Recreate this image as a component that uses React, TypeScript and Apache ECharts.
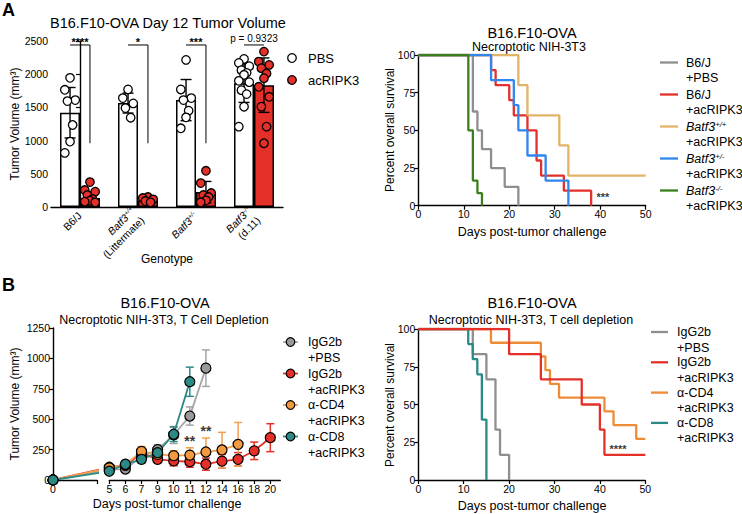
import React, { useEffect, useRef } from "react";
import * as echarts from "echarts";

// ================= DATA =================
// Panel A (left): Day 12 tumor volume
const genotypes = ["B6/J", "Batf3+/+", "Batf3+/-", "Batf3-/-"];
const genotypeNotes = ["", "(Littermate)", "", "(d.11)"];
const pbsMean = [1420, 1565, 1610, 1865];
const pbsSD = [380, 150, 310, 290];
const acMean = [135, 100, 225, 1835];
const acSD = [95, 35, 160, 410];
const pbsDots = [
  [1945, 1765, 1610, 1595, 1235, 985, 815],
  [1770, 1640, 1560, 1490, 1345],
  [2215, 1770, 1640, 1610, 1450, 1350, 1185],
  [2230, 2170, 2120, 2060, 2020, 1990, 1900, 1880, 1760, 1700, 1510, 1210],
];
const acDots = [
  [375, 255, 230, 180, 120, 95, 80, 70],
  [150, 135, 115, 90, 70],
  [545, 360, 210, 180, 150, 100, 70],
  [2340, 2190, 2140, 2090, 2010, 1940, 1810, 1660, 1510, 1210, 960],
];
const sigLabelsA = ["****", "*", "***", "p = 0.9323"];

// Panel A (right): survival
const kmAGroups = ["B6/J|+PBS", "B6/J|+acRIPK3", "Batf3+/+|+acRIPK3", "Batf3+/-|+acRIPK3", "Batf3-/-|+acRIPK3"];
const kmATimes = [
  [0, 12, 13, 14, 16, 19, 22],
  [0, 16, 17, 20, 21, 24, 26, 27, 32, 38],
  [0, 22, 24, 31, 33, 50],
  [0, 16, 21, 22, 24, 28, 33],
  [0, 11, 12, 13, 14],
];
const kmASurv = [
  [100, 62.5, 50, 37.5, 25, 12.5, 0],
  [100, 90, 80, 70, 60, 50, 30, 20, 10, 0],
  [100, 80, 60, 40, 20, 20],
  [100, 83.3, 66.7, 50, 33.3, 16.7, 0],
  [100, 50, 16.7, 8.3, 0],
];
const kmASig = "***";

// Panel B (left): tumor growth
const tvDays = [0, 5, 6, 7, 9, 10, 11, 12, 14, 16, 18, 20];
const tvGroups = ["IgG2b|+PBS", "IgG2b|+acRIPK3", "α-CD4|+acRIPK3", "α-CD8|+acRIPK3"];
const tvMean = [
  [0, 85, 90, 190, 250, 370, 526, 920, null, null, null, null],
  [0, 105, 120, 220, 170, 157, 150, 130, 155, 170, 240, 348],
  [0, 100, 125, 235, 210, 200, 205, 230, 247, 293, null, null],
  [0, 72, 130, 170, 225, 376, 808, null, null, null, null, null],
];
const tvSD = [
  [0, 20, 25, 50, 40, 70, 75, 150, null, null, null, null],
  [0, 15, 20, 40, 30, 40, 45, 50, 55, 55, 72, 115],
  [0, 15, 20, 40, 30, 40, 60, 115, 145, 180, null, null],
  [0, 20, 20, 30, 40, 60, 120, null, null, null, null, null],
];
const tvSigDays = [11, 12];
const tvSigLabels = ["**", "**"];

// Panel B (right): survival
const kmBGroups = ["IgG2b|+PBS", "IgG2b|+acRIPK3", "α-CD4|+acRIPK3", "α-CD8|+acRIPK3"];
const kmBTimes = [
  [0, 12, 15, 17, 18, 20],
  [0, 20, 27, 36, 40, 41, 50],
  [0, 16, 27, 28, 29, 31, 41, 43, 48, 50],
  [0, 11, 12, 13, 14, 15],
];
const kmBSurv = [
  [100, 83.3, 66.7, 33.3, 16.7, 0],
  [100, 83.3, 66.7, 50, 33.3, 16.7, 16.7],
  [100, 90.9, 81.8, 72.7, 63.6, 54.5, 45.5, 36.4, 27.3, 27.3],
  [100, 90, 80, 70, 40, 0],
];
const kmBSig = "****";

// ================= STYLE / LAYOUT =================
const FONT = '"Liberation Sans", Arial, Helvetica, sans-serif';
const RED = "#e5302a";
const kmAColors = ["#8e8e8e", "#e2302c", "#e2b467", "#2f86ee", "#3b7f1c"];
const tvColors = ["#9a9a9a", "#e5302a", "#f29a3f", "#2c8a86"];
const tvLine = ["#a5a5a5", "#e5302a", "#f2a050", "#2c8a86"];
const kmBColors = ["#8e8e8e", "#e5302a", "#ee8c36", "#2a8a86"];
const kmBOrder = [0, 2, 3, 1];
const OFF = 0.1717; // bar half-offset in category units
const jit = [0, -0.09, 0.09, -0.045, 0.045];

const plain = (v: number) => String(v);
const axisLineStyle = { show: true, lineStyle: { color: "#000", width: 1.4 } };
const tickStyle = { show: true, inside: false, length: 4, lineStyle: { color: "#000", width: 1.2 } };
const labelStyle = { color: "#000", fontSize: 10.5, fontFamily: FONT, margin: 3, formatter: plain };

const richSup = (size: number) => ({
  i: { fontStyle: "italic", fontSize: size, fontFamily: FONT, color: "#000" },
  s: { fontStyle: "italic", fontSize: size * 0.62, fontFamily: FONT, verticalAlign: "top", color: "#000" },
});
const fmtGeno = (s: string) => (s.startsWith("Batf3") ? `{i|Batf3}{s|${s.slice(5)}}` : s);

function errRender(capW: number, color: string, lw: number) {
  return (params: any, api: any) => {
    const x = api.value(0);
    const lo = api.coord([x, api.value(1)]);
    const hi = api.coord([x, api.value(2)]);
    const st = { stroke: color, lineWidth: lw };
    return {
      type: "group",
      children: [
        { type: "line", shape: { x1: lo[0], y1: lo[1], x2: hi[0], y2: hi[1] }, style: st },
        { type: "line", shape: { x1: hi[0] - capW / 2, y1: hi[1], x2: hi[0] + capW / 2, y2: hi[1] }, style: st },
        { type: "line", shape: { x1: lo[0] - capW / 2, y1: lo[1], x2: lo[0] + capW / 2, y2: lo[1] }, style: st },
      ],
    };
  };
}

function txt(x: number, y: number, text: string, size: number, o: any = {}) {
  return {
    type: "text",
    x,
    y,
    rotation: o.rot || 0,
    style: {
      text,
      fontSize: size,
      fontFamily: FONT,
      fontWeight: o.weight || "normal",
      fill: "#000",
      align: o.align || "center",
      verticalAlign: "middle",
      rich: o.rich,
    },
  };
}

function buildOption() {
  const series: any[] = [];
  const graphic: any[] = [];

  // ---------- Panel A left ----------
  series.push({
    type: "bar", xAxisIndex: 0, yAxisIndex: 0, data: pbsMean, barWidth: 20, barGap: "0%",
    itemStyle: { color: "#fff", borderColor: "#000", borderWidth: 1.5 }, silent: true,
  });
  series.push({
    type: "bar", xAxisIndex: 0, yAxisIndex: 0, data: acMean, barWidth: 20, barGap: "0%",
    itemStyle: { color: RED, borderColor: "#000", borderWidth: 1.5 }, silent: true,
  });
  series.push({
    type: "custom", xAxisIndex: 1, yAxisIndex: 0, silent: true, z: 3,
    data: pbsMean.map((m, i) => [i - OFF, m - pbsSD[i], m + pbsSD[i]]),
    renderItem: errRender(11, "#000", 1.4),
  });
  series.push({
    type: "custom", xAxisIndex: 1, yAxisIndex: 0, silent: true, z: 3,
    data: acMean.map((m, i) => [i + OFF, m - acSD[i], m + acSD[i]]),
    renderItem: errRender(11, "#000", 1.4),
  });
  const dotData = (arr: number[][], side: number) =>
    arr.flatMap((vals, i) => vals.map((v, k) => [i + side * OFF + jit[k % jit.length], v]));
  series.push({
    type: "scatter", xAxisIndex: 1, yAxisIndex: 0, symbolSize: 8.5, silent: true, z: 4,
    data: dotData(pbsDots, -1), itemStyle: { color: "#fff", borderColor: "#000", borderWidth: 1.3, opacity: 1 },
  });
  series.push({
    type: "scatter", xAxisIndex: 1, yAxisIndex: 0, symbolSize: 8.5, silent: true, z: 4,
    data: dotData(acDots, 1), itemStyle: { color: RED, borderColor: "#000", borderWidth: 1.3, opacity: 1 },
  });
  // significance brackets
  const brTop = 2440, brDrop = 960, brText = 2500;
  series.push({
    type: "custom", xAxisIndex: 1, yAxisIndex: 0, silent: true, z: 5,
    data: genotypes.map((g, i) => [i]),
    renderItem: (params: any, api: any) => {
      const i = api.value(0);
      const idx = params.dataIndex;
      const L = api.coord([i - OFF, brTop]);
      const R = api.coord([i + OFF, brTop]);
      const D = api.coord([i + OFF, brDrop]);
      const T = api.coord([i, brText]);
      const st = { stroke: "#000", lineWidth: 1 };
      const isP = sigLabelsA[idx].startsWith("p");
      const ch: any[] = [{ type: "line", shape: { x1: L[0], y1: L[1], x2: R[0], y2: R[1] }, style: st }];
      if (!isP) ch.push({ type: "line", shape: { x1: R[0], y1: R[1], x2: D[0], y2: D[1] }, style: st });
      ch.push({
        type: "text", x: T[0], y: isP ? T[1] - 3 : T[1] + 1,
        style: { text: sigLabelsA[idx], fontSize: isP ? 10 : 11, fontWeight: isP ? "normal" : "bold", fontFamily: FONT, fill: "#000", align: "center", verticalAlign: "middle" },
      });
      return { type: "group", children: ch };
    },
  });

  // ---------- Panel A right (KM) ----------
  kmAGroups.forEach((g, gi) => {
    series.push({
      type: "line", step: "end", xAxisIndex: 2, yAxisIndex: 1, symbol: "none", silent: true,
      data: kmATimes[gi].map((t, k) => [t, kmASurv[gi][k]]),
      lineStyle: { color: kmAColors[gi], width: 2.3 }, itemStyle: { color: kmAColors[gi] },
    });
  });
  series.push({
    type: "scatter", xAxisIndex: 2, yAxisIndex: 1, symbolSize: 0, silent: true,
    data: [[40.6, 6]],
    label: { show: true, position: "inside", formatter: kmASig, fontSize: 11, color: "#000", fontFamily: FONT, fontWeight: "bold" },
  });

  // ---------- Panel B left (growth) ----------
  tvGroups.forEach((g, gi) => {
    // day 0 -> day 5 segment (clipped at axis break)
    series.push({
      type: "line", xAxisIndex: 3, yAxisIndex: 2, silent: true, clip: true, z: 2,
      data: [
        { value: [tvDays[0], tvMean[gi][0]], symbol: "circle" },
        { value: [tvDays[1], tvMean[gi][1]], symbol: "none" },
      ],
      symbolSize: 10,
      lineStyle: { color: tvLine[gi], width: 1.8 },
      itemStyle: { color: tvColors[gi], borderColor: "#000", borderWidth: 1.2 },
    });
    const pts: any[] = [];
    const errs: any[] = [];
    for (let k = 1; k < tvDays.length; k++) {
      const m = tvMean[gi][k];
      if (m == null) continue;
      pts.push([k - 1, m]);
      const sd = tvSD[gi][k] as number;
      errs.push([k - 1, m - sd, m + sd]);
    }
    series.push({
      type: "custom", xAxisIndex: 4, yAxisIndex: 3, silent: true, z: 2 + gi * 0.01,
      data: errs, renderItem: errRender(8, tvLine[gi], 1.5), clip: false,
    });
    series.push({
      type: "line", xAxisIndex: 4, yAxisIndex: 3, silent: true, z: 3,
      data: pts, symbol: "circle", symbolSize: 10, showSymbol: true,
      lineStyle: { color: tvLine[gi], width: 1.8 },
      itemStyle: { color: tvColors[gi], borderColor: "#000", borderWidth: 1.2 },
    });
  });
  series.push({
    type: "scatter", xAxisIndex: 4, yAxisIndex: 3, symbolSize: 0, silent: true, z: 6,
    data: tvSigDays.map((d, i) => [tvDays.indexOf(d) - 1, i === 0 ? 320 : 403]),
    label: {
      show: true, position: "inside", fontSize: 14, fontWeight: "bold", color: "#000", fontFamily: FONT,
      formatter: (p: any) => tvSigLabels[p.dataIndex],
    },
  });

  // ---------- Panel B right (KM) ----------
  kmBOrder.forEach((gi) => {
    series.push({
      type: "line", step: "end", xAxisIndex: 5, yAxisIndex: 4, symbol: "none", silent: true,
      data: kmBTimes[gi].map((t, k) => [t, kmBSurv[gi][k]]),
      lineStyle: { color: kmBColors[gi], width: 2.3 }, itemStyle: { color: kmBColors[gi] },
    });
  });
  series.push({
    type: "scatter", xAxisIndex: 5, yAxisIndex: 4, symbolSize: 0, silent: true,
    data: [[44, 20.5]],
    label: { show: true, position: "inside", formatter: kmBSig, fontSize: 11, color: "#000", fontFamily: FONT, fontWeight: "bold" },
  });

  // ---------- Graphic texts ----------
  graphic.push(txt(2, 10, "A", 18, { align: "left", weight: "bold" }));
  graphic.push(txt(2, 285, "B", 18, { align: "left", weight: "bold" }));
  graphic.push(txt(168, 23, "B16.F10-OVA Day 12 Tumor Volume", 14.5));
  graphic.push(txt(15, 124, "Tumor Volume (mm³)", 12, { rot: Math.PI / 2 }));
  graphic.push(txt(167, 259, "Genotype", 12));
  // legend A left
  graphic.push({ type: "circle", shape: { cx: 292, cy: 58, r: 4.3 }, style: { fill: "#fff", stroke: "#000", lineWidth: 1.3 } });
  graphic.push({ type: "circle", shape: { cx: 292, cy: 80, r: 4.3 }, style: { fill: RED, stroke: "#000", lineWidth: 1.3 } });
  graphic.push(txt(308, 58, "PBS", 13, { align: "left" }));
  graphic.push(txt(308, 80, "acRIPK3", 13, { align: "left" }));

  // A right
  graphic.push(txt(532, 33, "B16.F10-OVA", 14.5));
  graphic.push(txt(529, 47, "Necroptotic NIH-3T3", 12.5));
  graphic.push(txt(390, 130, "Percent overall survival", 12, { rot: Math.PI / 2 }));
  graphic.push(txt(532, 232, "Days post-tumor challenge", 12.5));
  kmAGroups.forEach((g, gi) => {
    const [l1, l2] = g.split("|");
    const y = 62.5 + gi * 32;
    graphic.push({ type: "line", shape: { x1: 660, y1: y, x2: 678, y2: y }, style: { stroke: kmAColors[gi], lineWidth: 2.3 } });
    graphic.push(txt(686, y, fmtGeno(l1), 12.5, { align: "left", rich: richSup(12.5) }));
    graphic.push(txt(686, y + 15.5, l2, 12.5, { align: "left" }));
  });

  // B left
  graphic.push(txt(165, 303, "B16.F10-OVA", 14.5));
  graphic.push(txt(164, 320, "Necroptotic NIH-3T3, T Cell Depletion", 12.5));
  graphic.push(txt(15, 404, "Tumor Volume (mm³)", 12, { rot: Math.PI / 2 }));
  graphic.push(txt(167, 504, "Days post-tumor challenge", 12.5));
  tvGroups.forEach((g, gi) => {
    const [l1, l2] = g.split("|");
    const y = 342 + gi * 31.5;
    graphic.push({ type: "line", shape: { x1: 283, y1: y, x2: 298, y2: y }, style: { stroke: tvLine[gi], lineWidth: 1.8 } });
    graphic.push({ type: "circle", shape: { cx: 290.5, cy: y, r: 4.3 }, style: { fill: tvColors[gi], stroke: "#000", lineWidth: 1.2 } });
    graphic.push(txt(308, y, l1, 12.5, { align: "left" }));
    graphic.push(txt(308, y + 16, l2, 12.5, { align: "left" }));
  });

  // B right
  graphic.push(txt(532, 303, "B16.F10-OVA", 14.5));
  graphic.push(txt(531, 320, "Necroptotic NIH-3T3, T cell depletion", 12.5));
  graphic.push(txt(390, 405, "Percent overall survival", 12, { rot: Math.PI / 2 }));
  graphic.push(txt(532, 506, "Days post-tumor challenge", 12.5));
  kmBGroups.forEach((g, gi) => {
    const [l1, l2] = g.split("|");
    const y = 332 + gi * 30.3;
    graphic.push({ type: "line", shape: { x1: 651, y1: y, x2: 668, y2: y }, style: { stroke: kmBColors[gi], lineWidth: 2.3 } });
    graphic.push(txt(677, y, l1, 12.5, { align: "left" }));
    graphic.push(txt(677, y + 15.5, l2, 12.5, { align: "left" }));
  });

  const g = (left: number, top: number, width: number, height: number) => ({
    left, top, width, height, containLabel: false, outerBoundsMode: "none",
  });

  return {
    animation: false,
    backgroundColor: "#fff",
    textStyle: { fontFamily: FONT },
    grid: [
      g(51, 41, 232, 166),
      g(418.3, 55, 227.4, 150.7),
      g(53, 328, 44, 152),
      g(109.3, 328, 171, 152),
      g(418.3, 329, 227, 151),
    ],
    xAxis: [
      {
        type: "category", gridIndex: 0, data: genotypes,
        axisLine: axisLineStyle, axisTick: { show: false },
        axisLabel: {
          color: "#000", fontFamily: FONT, rotate: 45, interval: 0, margin: 7, fontSize: 10.5, lineHeight: 13,
          formatter: (v: string, i: number) => fmtGeno(v) + (genotypeNotes[i] ? "\n" + genotypeNotes[i] : ""),
          rich: richSup(10.5),
        },
      },
      { type: "value", gridIndex: 0, min: -0.5, max: 3.5, show: false },
      {
        type: "value", gridIndex: 1, min: 0, max: 50, interval: 10,
        axisLine: axisLineStyle, axisTick: tickStyle, axisLabel: labelStyle, splitLine: { show: false },
      },
      {
        type: "value", gridIndex: 2, min: 0, max: 3.9,
        axisLine: axisLineStyle,
        axisTick: { ...tickStyle, customValues: [0, 3.9] },
        axisLabel: { ...labelStyle, customValues: [0] },
        splitLine: { show: false },
      },
      {
        type: "value", gridIndex: 3, min: 0, max: 10.62,
        axisLine: axisLineStyle,
        axisTick: { ...tickStyle, customValues: tvDays.slice(1).map((d, i) => i) },
        axisLabel: {
          ...labelStyle, customValues: tvDays.slice(1).map((d, i) => i),
          formatter: (v: number) => String(tvDays[Math.round(v) + 1]),
        },
        splitLine: { show: false },
      },
      {
        type: "value", gridIndex: 4, min: 0, max: 50, interval: 10,
        axisLine: axisLineStyle, axisTick: tickStyle, axisLabel: labelStyle, splitLine: { show: false },
      },
    ],
    yAxis: [
      {
        type: "value", gridIndex: 0, min: 0, max: 2500, interval: 500,
        axisLine: axisLineStyle, axisTick: tickStyle, axisLabel: labelStyle, splitLine: { show: false },
      },
      {
        type: "value", gridIndex: 1, min: 0, max: 100, interval: 25,
        axisLine: axisLineStyle, axisTick: tickStyle, axisLabel: labelStyle, splitLine: { show: false },
      },
      {
        type: "value", gridIndex: 2, min: 0, max: 1250, interval: 250,
        axisLine: axisLineStyle, axisTick: tickStyle, axisLabel: labelStyle, splitLine: { show: false },
      },
      { type: "value", gridIndex: 3, min: 0, max: 1250, interval: 250, show: false },
      {
        type: "value", gridIndex: 4, min: 0, max: 100, interval: 25,
        axisLine: axisLineStyle, axisTick: tickStyle, axisLabel: labelStyle, splitLine: { show: false },
      },
    ],
    series,
    graphic: { elements: graphic },
  };
}

export default function App() {
  const ref = useRef<HTMLDivElement>(null);
  useEffect(() => {
    const chart = echarts.init(ref.current as HTMLDivElement, null, { renderer: "svg" });
    chart.setOption(buildOption() as any);
    return () => chart.dispose();
  }, []);
  return (
    <div
      ref={ref}
      style={{ position: "fixed", left: 0, top: 0, width: 742, height: 514, background: "#fff" }}
    />
  );
}
